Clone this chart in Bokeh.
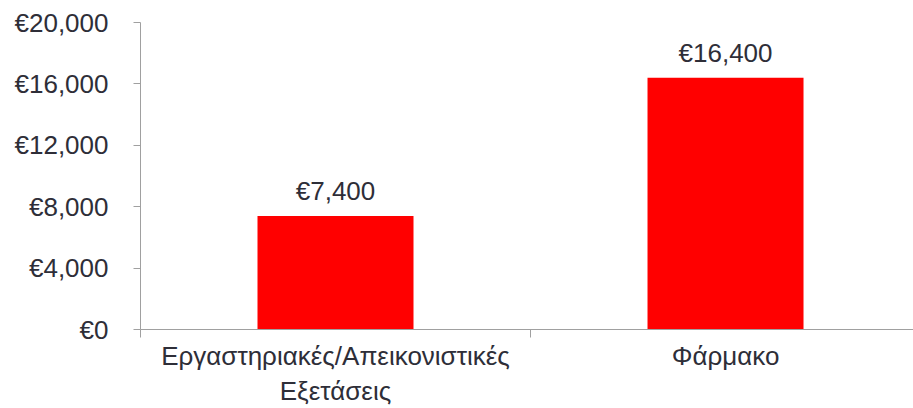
from bokeh.plotting import figure
from bokeh.models import Range1d, FixedTicker, ColumnDataSource
from bokeh.core.properties import value
from bokeh.embed import file_html
from bokeh.resources import INLINE

categories = ["Εργαστηριακές/Απεικονιστικές\nΕξετάσεις", "Φάρμακο"]
costs = [7400, 16400]
bar_labels = ["€7,400", "€16,400"]
y_ticks = [0, 4000, 8000, 12000, 16000, 20000]
y_tick_labels = ["€0", "€4,000", "€8,000", "€12,000", "€16,000", "€20,000"]

FONT = "Liberation Sans"
TXT = "#2e2e38"
AX = "#a0a0a0"

xs = [i + 0.5 for i in range(len(categories))]
src = ColumnDataSource(dict(x=xs, top=costs, lab=bar_labels))

p = figure(width=913, height=408, output_backend="svg", toolbar_location=None,
           x_range=Range1d(0, 1.982), y_range=Range1d(0, 20000),
           min_border_left=140, min_border_right=0, min_border_top=22, min_border_bottom=78)
p.outline_line_color = None
p.xgrid.grid_line_color = None
p.ygrid.grid_line_color = None

p.vbar(x="x", top="top", width=0.4, bottom=0, source=src, fill_color="#ff0000", line_color=None)
p.text(x="x", y="top", text="lab", source=src, text_align="center", text_baseline="bottom",
       y_offset=-10, text_font=value(FONT), text_font_size="26px", text_color=TXT)

# y axis
p.yaxis.ticker = FixedTicker(ticks=y_ticks)
p.yaxis.major_label_overrides = {t: l for t, l in zip(y_ticks, y_tick_labels)}
p.yaxis.axis_line_color = AX
p.yaxis.major_tick_line_color = AX
p.yaxis.major_tick_in = 0
p.yaxis.major_tick_out = 7
p.yaxis.minor_tick_line_color = None
p.yaxis.major_label_standoff = 25
p.yaxis.major_label_text_font = FONT
p.yaxis.major_label_text_font_size = "26px"
p.yaxis.major_label_text_color = TXT

# x axis
p.xaxis.ticker = FixedTicker(ticks=xs, minor_ticks=list(range(len(categories) + 1)))
p.xaxis.major_label_overrides = {x: c for x, c in zip(xs, categories)}
p.xaxis.axis_line_color = AX
p.xaxis.major_tick_line_color = None
p.xaxis.minor_tick_line_color = AX
p.xaxis.minor_tick_in = 0
p.xaxis.minor_tick_out = 8
p.xaxis.major_label_standoff = 3
p.xaxis.major_label_text_font = FONT
p.xaxis.major_label_text_font_size = "26px"
p.xaxis.major_label_text_color = TXT
p.xaxis.major_label_text_line_height = 1.17

open("out.html", "w").write(file_html(p, INLINE))
